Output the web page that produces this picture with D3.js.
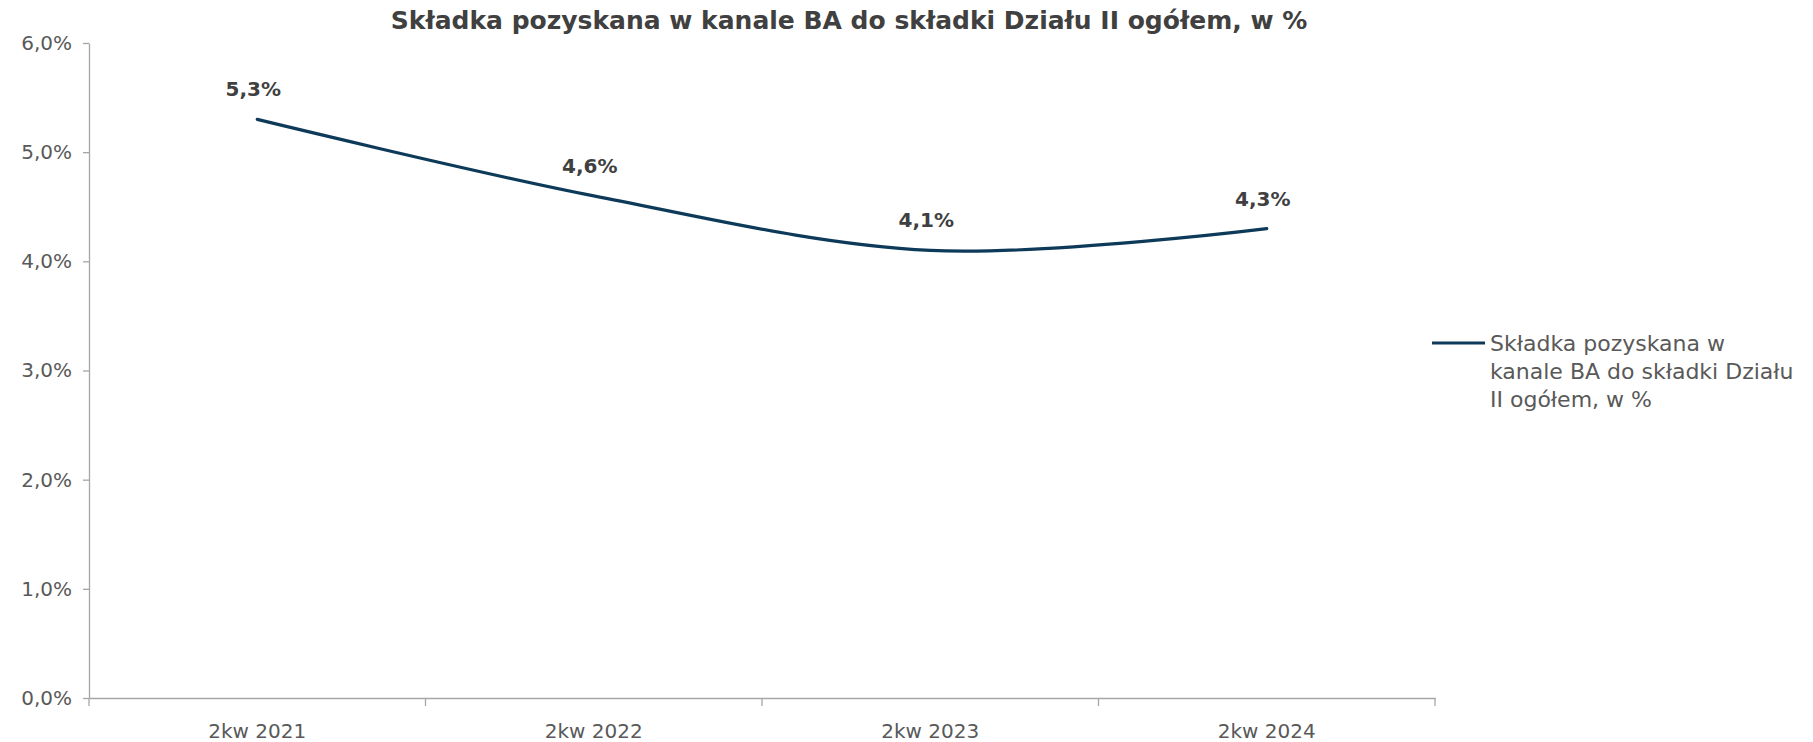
<!DOCTYPE html>
<html>
<head>
<meta charset="utf-8">
<script src="https://cdn.jsdelivr.net/npm/d3@7"></script>
<style>
  html, body { margin: 0; padding: 0; background: #ffffff; }
  svg { display: block; font-family: "DejaVu Sans", sans-serif; }
</style>
</head>
<body>
<svg id="chart" width="1813" height="742"></svg>
<script>
// Share of premium collected via the bancassurance channel in total Division II premium
const title = "Składka pozyskana w kanale BA do składki Działu II ogółem, w %";
const categories = ["2kw 2021", "2kw 2022", "2kw 2023", "2kw 2024"];
const shareValues = [5.3, 4.6, 4.1, 4.3];
const yTicks = [0, 1, 2, 3, 4, 5, 6];
const legendLines = ["Składka pozyskana w", "kanale BA do składki Działu", "II ogółem, w %"];

const plLocale = d3.formatLocale({ decimal: ",", thousands: " ", grouping: [3], currency: ["", " zł"] });
const fmt = v => plLocale.format(".1f")(v) + "%";

const svg = d3.select("#chart");
const plotLeft = 89, plotRight = 1435, plotTop = 43, plotBottom = 698;

const x = d3.scaleBand().domain(categories).range([plotLeft, plotRight]).padding(0);
const y = d3.scaleLinear().domain([0, 6]).range([plotBottom, plotTop]);
const cx = c => x(c) + x.bandwidth() / 2;

const axisColor = "#a6a6a6";
const textColor = "#595959";

// Title
svg.append("text")
  .attr("x", 849).attr("y", 29)
  .attr("text-anchor", "middle")
  .attr("font-size", 25).attr("font-weight", "bold")
  .attr("fill", "#404040")
  .text(title);

// Y axis
const yAxis = svg.append("g")
  .attr("transform", `translate(${plotLeft},0)`)
  .call(d3.axisLeft(y).tickValues(yTicks).tickFormat(fmt).tickSize(6).tickSizeOuter(0).tickPadding(11));
yAxis.select(".domain").attr("stroke", axisColor).attr("stroke-width", 1.3);
yAxis.selectAll(".tick line").attr("stroke", axisColor).attr("stroke-width", 1.3);
yAxis.selectAll(".tick text").attr("font-size", 20).attr("fill", textColor).attr("font-family", "DejaVu Sans, sans-serif");

// X axis with ticks on category boundaries
const xAxis = svg.append("g")
  .attr("transform", `translate(0,${plotBottom})`)
  .call(d3.axisBottom(x).tickSize(0).tickSizeOuter(0).tickPadding(26));
xAxis.select(".domain").attr("stroke", axisColor).attr("stroke-width", 1.3);
xAxis.selectAll(".tick text").attr("font-size", 20).attr("fill", textColor).attr("font-family", "DejaVu Sans, sans-serif");
const boundaries = categories.map(c => x(c)).concat([x.range()[1]]);
xAxis.selectAll(".boundary")
  .data(boundaries)
  .enter().append("line")
  .attr("class", "boundary")
  .attr("x1", d => d).attr("x2", d => d)
  .attr("y1", 0).attr("y2", 8)
  .attr("stroke", axisColor).attr("stroke-width", 1.3);

// Smoothed series line
const points = categories.map((c, i) => ({ c, v: shareValues[i] }));
const line = d3.line()
  .x(d => cx(d.c))
  .y(d => y(d.v))
  .curve(d3.curveCatmullRom.alpha(0));
svg.append("path")
  .datum(points)
  .attr("d", line)
  .attr("fill", "none")
  .attr("stroke", "#0e3a5a")
  .attr("stroke-width", 3.2)
  .attr("stroke-linecap", "round");

// Value labels
svg.selectAll(".val")
  .data(points)
  .enter().append("text")
  .attr("class", "val")
  .attr("x", d => cx(d.c) - 4)
  .attr("y", d => y(d.v) - 23)
  .attr("text-anchor", "middle")
  .attr("font-size", 20).attr("font-weight", "bold")
  .attr("fill", "#404040")
  .text(d => fmt(d.v));

// Legend
const lg = svg.append("g");
lg.append("line")
  .attr("x1", 1432).attr("x2", 1485)
  .attr("y1", 343).attr("y2", 343)
  .attr("stroke", "#0e3a5a").attr("stroke-width", 3.2);
lg.selectAll("text")
  .data(legendLines)
  .enter().append("text")
  .attr("x", 1490)
  .attr("y", (d, i) => 351 + i * 28)
  .attr("font-size", 22)
  .attr("fill", textColor)
  .text(d => d);
</script>
</body>
</html>
